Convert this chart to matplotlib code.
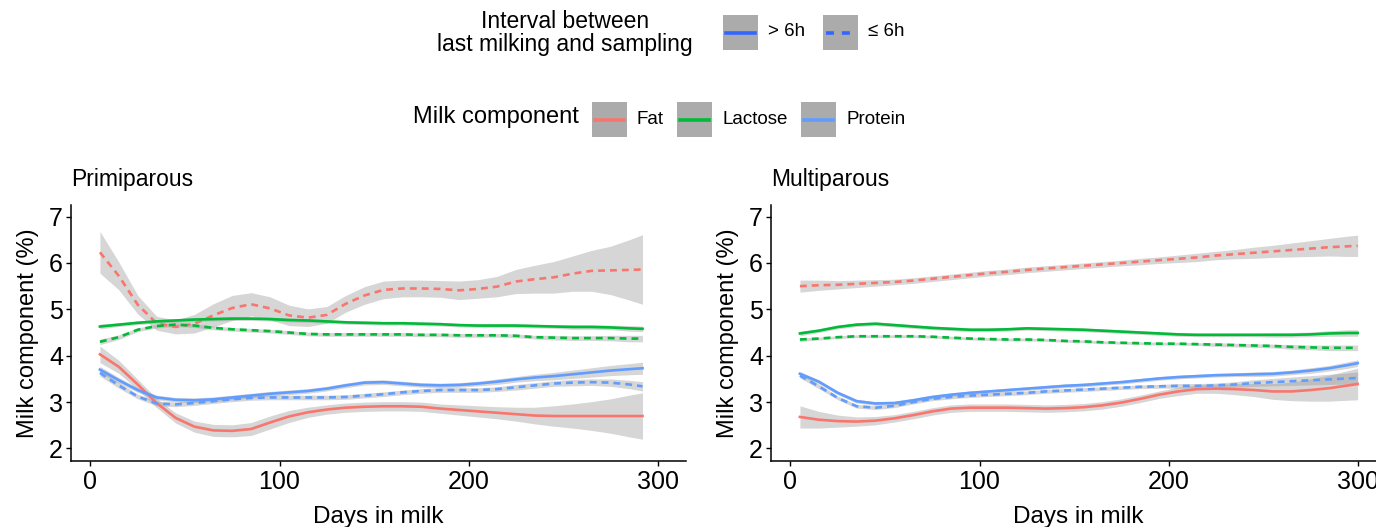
import matplotlib.pyplot as plt
import numpy as np
from matplotlib.lines import Line2D
from matplotlib.patches import Rectangle

plt.rcParams['font.family'] = ['Liberation Sans', 'DejaVu Sans']

W, H = 1376, 527

FAT = '#F8766D'
LACTOSE = '#00BA38'
PROTEIN = '#619CFF'
INTERVAL_BLUE = '#3366FF'

# ---- Primiparous ----
p_days = [5, 15, 25, 35, 45, 55, 65, 75, 85, 95, 105, 115, 125, 135, 145,
          155, 165, 175, 185, 195, 205, 215, 225, 235, 245, 255, 265, 275, 285, 292]

p_fat_long = [4.03, 3.76, 3.38, 2.98, 2.66, 2.47, 2.39, 2.38, 2.42, 2.56, 2.69, 2.78, 2.84, 2.88, 2.90,
              2.91, 2.91, 2.90, 2.86, 2.83, 2.80, 2.77, 2.74, 2.71, 2.70, 2.70, 2.70, 2.70, 2.70, 2.70]
p_fat_long_ci = [0.18, 0.14, 0.11, 0.10, 0.11, 0.12, 0.13, 0.13, 0.14, 0.14, 0.13, 0.11, 0.10, 0.10, 0.10,
                 0.10, 0.10, 0.10, 0.10, 0.11, 0.12, 0.13, 0.15, 0.18, 0.22, 0.26, 0.31, 0.37, 0.45, 0.50]
p_fat_short = [6.23, 5.72, 5.10, 4.70, 4.62, 4.69, 4.87, 5.03, 5.11, 5.02, 4.87, 4.82, 4.88, 5.12, 5.30,
               5.42, 5.45, 5.45, 5.44, 5.41, 5.44, 5.49, 5.60, 5.65, 5.69, 5.77, 5.83, 5.84, 5.85, 5.86]
p_fat_short_ci = [0.45, 0.30, 0.20, 0.15, 0.15, 0.20, 0.25, 0.27, 0.25, 0.25, 0.22, 0.19, 0.18, 0.18, 0.19,
                  0.19, 0.18, 0.18, 0.18, 0.20, 0.20, 0.22, 0.26, 0.30, 0.34, 0.38, 0.44, 0.52, 0.65, 0.75]

p_lac_long = [4.63, 4.67, 4.71, 4.74, 4.76, 4.78, 4.79, 4.80, 4.80, 4.79, 4.77, 4.76, 4.74, 4.72, 4.71,
              4.70, 4.70, 4.69, 4.68, 4.66, 4.65, 4.65, 4.65, 4.64, 4.63, 4.62, 4.62, 4.61, 4.59, 4.58]
p_lac_long_ci = [0.05, 0.04, 0.04, 0.04, 0.04, 0.04, 0.04, 0.04, 0.04, 0.04, 0.04, 0.04, 0.04, 0.04, 0.04,
                 0.04, 0.04, 0.04, 0.04, 0.04, 0.04, 0.04, 0.04, 0.04, 0.04, 0.05, 0.05, 0.05, 0.06, 0.06]
p_lac_short = [4.30, 4.40, 4.56, 4.64, 4.67, 4.65, 4.60, 4.57, 4.55, 4.53, 4.50, 4.47, 4.46, 4.46, 4.46,
               4.46, 4.46, 4.45, 4.45, 4.44, 4.44, 4.44, 4.43, 4.40, 4.39, 4.38, 4.38, 4.38, 4.37, 4.37]
p_lac_short_ci = [0.06, 0.05, 0.04, 0.04, 0.04, 0.04, 0.04, 0.04, 0.04, 0.04, 0.04, 0.04, 0.04, 0.04, 0.04,
                  0.04, 0.04, 0.04, 0.04, 0.04, 0.04, 0.04, 0.04, 0.04, 0.05, 0.05, 0.05, 0.06, 0.07, 0.07]

p_pro_long = [3.70, 3.47, 3.26, 3.10, 3.05, 3.04, 3.06, 3.10, 3.14, 3.18, 3.21, 3.24, 3.29, 3.36, 3.42,
              3.43, 3.40, 3.37, 3.36, 3.37, 3.40, 3.44, 3.49, 3.53, 3.56, 3.60, 3.64, 3.68, 3.71, 3.73]
p_pro_long_ci = [0.07, 0.06, 0.05, 0.05, 0.05, 0.05, 0.05, 0.05, 0.05, 0.05, 0.05, 0.05, 0.05, 0.05, 0.05,
                 0.05, 0.05, 0.05, 0.05, 0.05, 0.05, 0.06, 0.06, 0.07, 0.08, 0.09, 0.10, 0.11, 0.12, 0.13]
p_pro_short = [3.63, 3.36, 3.12, 2.97, 2.95, 2.98, 3.02, 3.06, 3.09, 3.10, 3.10, 3.10, 3.10, 3.11, 3.14,
               3.17, 3.21, 3.24, 3.26, 3.26, 3.26, 3.28, 3.32, 3.36, 3.40, 3.42, 3.43, 3.42, 3.38, 3.34]
p_pro_short_ci = [0.07, 0.06, 0.05, 0.05, 0.05, 0.05, 0.05, 0.05, 0.05, 0.05, 0.05, 0.05, 0.05, 0.05, 0.05,
                  0.05, 0.05, 0.05, 0.05, 0.05, 0.05, 0.05, 0.06, 0.06, 0.06, 0.07, 0.07, 0.08, 0.09, 0.10]

# ---- Multiparous ----
m_days = [5, 15, 25, 35, 45, 55, 65, 75, 85, 95, 105, 115, 125, 135, 145, 155,
          165, 175, 185, 195, 205, 215, 225, 235, 245, 255, 265, 275, 285, 295, 300]

m_fat_long = [2.68, 2.62, 2.59, 2.58, 2.60, 2.65, 2.72, 2.80, 2.86, 2.88, 2.88, 2.88, 2.87, 2.86, 2.87, 2.89,
              2.93, 2.99, 3.07, 3.16, 3.23, 3.28, 3.29, 3.28, 3.26, 3.23, 3.23, 3.26, 3.30, 3.36, 3.39]
m_fat_long_ci = [0.24, 0.18, 0.13, 0.10, 0.09, 0.08, 0.08, 0.08, 0.08, 0.08, 0.08, 0.08, 0.08, 0.08, 0.08, 0.08,
                 0.08, 0.08, 0.08, 0.08, 0.09, 0.09, 0.10, 0.12, 0.14, 0.17, 0.20, 0.24, 0.28, 0.32, 0.34]
m_fat_short = [5.50, 5.52, 5.53, 5.55, 5.57, 5.59, 5.62, 5.66, 5.70, 5.74, 5.78, 5.81, 5.85, 5.88, 5.91, 5.94,
               5.97, 6.00, 6.03, 6.06, 6.09, 6.12, 6.16, 6.19, 6.22, 6.25, 6.28, 6.31, 6.34, 6.36, 6.37]
m_fat_short_ci = [0.13, 0.11, 0.09, 0.08, 0.07, 0.06, 0.06, 0.06, 0.06, 0.06, 0.06, 0.06, 0.06, 0.06, 0.06, 0.06,
                  0.06, 0.06, 0.07, 0.07, 0.08, 0.09, 0.09, 0.10, 0.12, 0.13, 0.15, 0.17, 0.19, 0.22, 0.23]

m_lac_long = [4.48, 4.54, 4.62, 4.67, 4.69, 4.66, 4.63, 4.60, 4.58, 4.56, 4.56, 4.57, 4.59, 4.58, 4.57, 4.56,
              4.54, 4.52, 4.50, 4.48, 4.46, 4.45, 4.45, 4.45, 4.45, 4.45, 4.45, 4.46, 4.48, 4.49, 4.49]
m_lac_long_ci = [0.05, 0.04, 0.04, 0.04, 0.04, 0.04, 0.04, 0.04, 0.04, 0.04, 0.04, 0.04, 0.04, 0.04, 0.04, 0.04,
                 0.04, 0.04, 0.04, 0.04, 0.04, 0.04, 0.04, 0.04, 0.04, 0.05, 0.05, 0.05, 0.06, 0.07, 0.07]
m_lac_short = [4.35, 4.37, 4.40, 4.42, 4.42, 4.42, 4.42, 4.41, 4.39, 4.37, 4.36, 4.35, 4.35, 4.34, 4.32, 4.31,
               4.29, 4.28, 4.27, 4.26, 4.26, 4.25, 4.24, 4.23, 4.22, 4.21, 4.19, 4.18, 4.17, 4.17, 4.17]
m_lac_short_ci = [0.04, 0.03, 0.03, 0.03, 0.03, 0.03, 0.03, 0.03, 0.03, 0.03, 0.03, 0.03, 0.03, 0.03, 0.03, 0.03,
                  0.03, 0.03, 0.03, 0.03, 0.03, 0.03, 0.04, 0.04, 0.04, 0.04, 0.05, 0.05, 0.06, 0.06, 0.06]

m_pro_long = [3.61, 3.44, 3.20, 3.02, 2.97, 2.98, 3.04, 3.11, 3.16, 3.20, 3.23, 3.26, 3.29, 3.32, 3.35, 3.37,
              3.40, 3.43, 3.47, 3.51, 3.54, 3.56, 3.58, 3.59, 3.60, 3.61, 3.64, 3.68, 3.73, 3.80, 3.84]
m_pro_long_ci = [0.05, 0.04, 0.04, 0.04, 0.04, 0.04, 0.04, 0.04, 0.04, 0.04, 0.04, 0.04, 0.04, 0.04, 0.04, 0.04,
                 0.04, 0.04, 0.04, 0.04, 0.04, 0.04, 0.04, 0.04, 0.05, 0.05, 0.05, 0.06, 0.06, 0.07, 0.07]
m_pro_short = [3.57, 3.34, 3.09, 2.91, 2.88, 2.92, 3.00, 3.07, 3.11, 3.14, 3.16, 3.18, 3.20, 3.23, 3.25, 3.27,
               3.29, 3.31, 3.33, 3.34, 3.35, 3.35, 3.36, 3.38, 3.41, 3.43, 3.45, 3.47, 3.49, 3.51, 3.52]
m_pro_short_ci = [0.05, 0.05, 0.04, 0.04, 0.04, 0.04, 0.04, 0.04, 0.04, 0.04, 0.04, 0.04, 0.04, 0.04, 0.04, 0.04,
                  0.04, 0.04, 0.04, 0.04, 0.05, 0.05, 0.05, 0.06, 0.07, 0.08, 0.09, 0.10, 0.11, 0.12, 0.13]

panels = [
    ("Primiparous", p_days, [
        (p_fat_long, p_fat_long_ci, FAT, '-'), (p_fat_short, p_fat_short_ci, FAT, '--'),
        (p_lac_long, p_lac_long_ci, LACTOSE, '-'), (p_lac_short, p_lac_short_ci, LACTOSE, '--'),
        (p_pro_long, p_pro_long_ci, PROTEIN, '-'), (p_pro_short, p_pro_short_ci, PROTEIN, '--')]),
    ("Multiparous", m_days, [
        (m_fat_long, m_fat_long_ci, FAT, '-'), (m_fat_short, m_fat_short_ci, FAT, '--'),
        (m_lac_long, m_lac_long_ci, LACTOSE, '-'), (m_lac_short, m_lac_short_ci, LACTOSE, '--'),
        (m_pro_long, m_pro_long_ci, PROTEIN, '-'), (m_pro_short, m_pro_short_ci, PROTEIN, '--')]),
]

fig = plt.figure(figsize=(W / 100, H / 100), dpi=100)

axes_left_px = [71, 771]
for (title, days, series), left_px in zip(panels, axes_left_px):
    ax = fig.add_axes([left_px / W, 1 - 461 / H, 615 / W, 256 / H])
    d = np.array(days)
    for vals, ci, color, ls in series:
        v = np.array(vals)
        c = np.array(ci)
        ax.fill_between(d, v - c, v + c, color='#999999', alpha=0.4, lw=0)
    for vals, ci, color, ls in series:
        line, = ax.plot(d, vals, color=color, lw=1.9, ls=ls)
        if ls == '--':
            line.set_dashes((2.6, 1.9))
    ax.set_xlim(-10.3, 315)
    ax.set_ylim(1.73, 7.25)
    ax.set_xticks([0, 100, 200, 300])
    ax.set_yticks([2, 3, 4, 5, 6, 7])
    for side in ['top', 'right']:
        ax.spines[side].set_visible(False)
    for side in ['left', 'bottom']:
        ax.spines[side].set_linewidth(1.1)
    ax.tick_params(length=3.3, width=1.0, labelsize=18, pad=2.5, colors='black')
    ax.tick_params(axis='x', pad=3.5)
    ax.set_xlabel("Days in milk", fontsize=17.5, labelpad=8)
    ax.set_ylabel("Milk component (%)", fontsize=17, labelpad=7)
    ax.set_title(title, loc='left', fontsize=16.5, pad=14)

# ---- legends (drawn in figure pixel space) ----
def px(x, y):
    return x / W, 1 - y / H

def key(x0, y0, color, ls):
    fig.add_artist(Rectangle(px(x0, y0 + 35), 35 / W, 35 / H, transform=fig.transFigure,
                             facecolor='#ABABAB', edgecolor='none'))
    ln = Line2D([(x0 + 3) / W, (x0 + 32) / W], [1 - (y0 + 17.5) / H] * 2,
                transform=fig.transFigure, color=color, lw=2.6)
    if ls == '--':
        ln.set_dashes((2.2, 2.2))
    fig.add_artist(ln)

fig.text(*px(565, 33), "Interval between\nlast milking and sampling", ha='center', va='center',
         fontsize=16.5, linespacing=1.05)
interval_keys = [(723, '-', "> 6h"), (823, '--', "\u2264 6h")]
for x0, ls, lab in interval_keys:
    key(x0, 15, INTERVAL_BLUE, ls)
    fig.text(*px(x0 + 45, 32), lab, ha='left', va='center', fontsize=13.5)

fig.text(*px(413, 117), "Milk component", ha='left', va='center', fontsize=17)
component_keys = [(592, FAT, "Fat"), (677, LACTOSE, "Lactose"), (801, PROTEIN, "Protein")]
for x0, color, lab in component_keys:
    key(x0, 102, color, '-')
    fig.text(*px(x0 + 45, 119), lab, ha='left', va='center', fontsize=13.5)

fig.savefig("out.png", dpi=100)
